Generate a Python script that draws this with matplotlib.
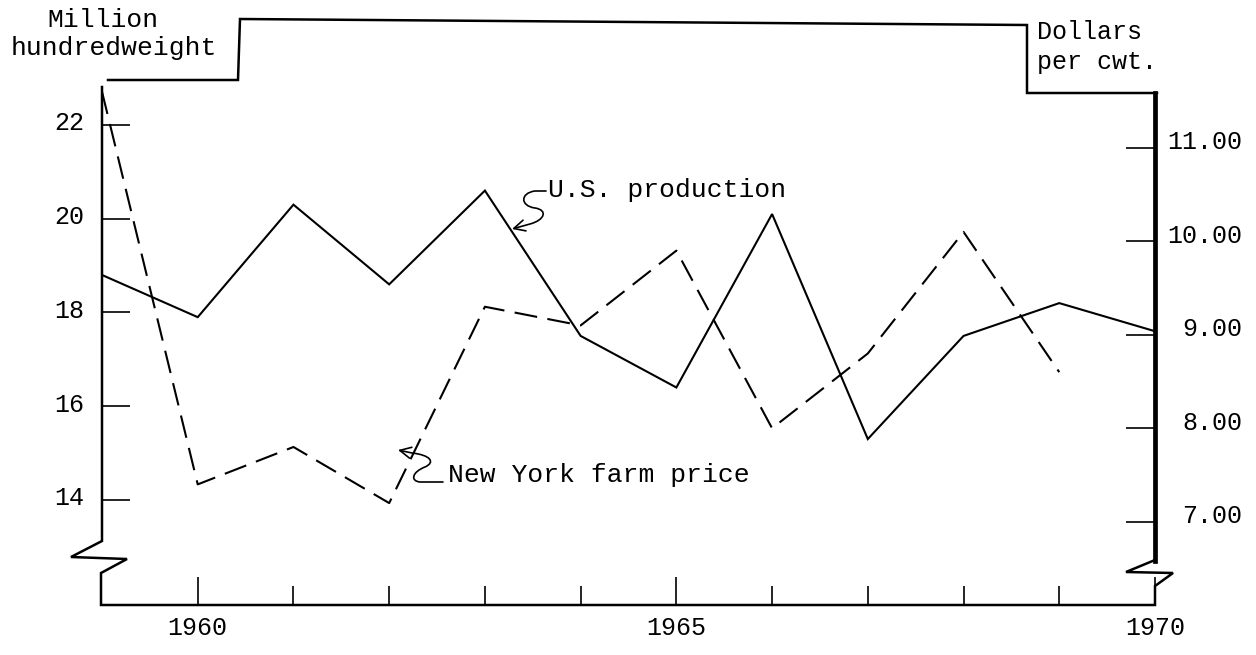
import matplotlib
matplotlib.use("Agg")
from matplotlib import pyplot as plt
from matplotlib.lines import Line2D
from matplotlib.patches import FancyArrowPatch
from matplotlib.path import Path
from matplotlib.transforms import Affine2D, ScaledTranslation

# onion data, 1959-1970
years = [1959, 1960, 1961, 1962, 1963, 1964, 1965, 1966, 1967, 1968, 1969, 1970]
us_production = [18.8, 17.9, 20.3, 18.6, 20.6, 17.5, 16.4, 20.1, 15.3, 17.5, 18.2, 17.6]  # million cwt
price_years = [1959, 1960, 1961, 1962, 1963, 1964, 1965, 1966, 1967, 1968, 1969]
ny_price = [11.6, 7.4, 7.8, 7.2, 9.3, 9.1, 9.9, 8.0, 8.8, 10.1, 8.6]  # dollars per cwt

left_ticks = [14, 16, 18, 20, 22]
right_ticks = [7, 8, 9, 10, 11]
right_labels = ['7.00', '8.00', '9.00', '10.00', '11.00']
year_labels = [1960, 1965, 1970]

W, H = 1256, 655
FONT = 'Liberation Mono'
plt.rcParams['font.family'] = [FONT, 'DejaVu Sans Mono']

fig = plt.figure(figsize=(W / 100, H / 100), dpi=100)
fig.patch.set_facecolor('white')

# pixel coords (origin top-left) -> figure
px = Affine2D().scale(1 / W, -1 / H).translate(0, 1) + fig.transFigure

x0, x1, ytop, ybot = 102, 1155, 87, 605
ax = fig.add_axes([x0 / W, 1 - ybot / H, (x1 - x0) / W, (ybot - ytop) / H])
ax.set_xlim(1959, 1970)
ax.set_ylim(11.76, 22.81)
ax2 = ax.twinx()
ax2.set_ylim(6.11, 11.65)

for a in (ax, ax2):
    for s in a.spines.values():
        s.set_visible(False)
    a.set_facecolor('none')

ax.plot(years, us_production, color='black', lw=1.5, solid_joinstyle='miter')
ax2.plot(price_years, ny_price, color='black', lw=1.5, linestyle=(0, (11, 5)))

# axes ticks
ax.set_yticks(left_ticks)
ax.set_yticklabels([str(t) for t in left_ticks])
ax.tick_params(axis='y', direction='in', length=20, width=1.2, pad=13,
               labelsize=18, left=True, right=False)
ax.set_xticks(year_labels)
ax.set_xticklabels([str(y) for y in year_labels])
ax.set_xticks([y for y in range(1960, 1970) if y not in year_labels], minor=True)
ax.tick_params(axis='x', which='major', direction='in', length=20, width=1.2,
               pad=8, labelsize=18)
ax.tick_params(axis='x', which='minor', direction='in', length=14, width=1.2)
ax.tick_params(axis='x', which='both', top=False)

ax2.set_yticks(right_ticks)
ax2.set_yticklabels(right_labels)
ax2.tick_params(axis='y', direction='in', length=21, width=1.2, pad=63,
                labelsize=18, right=True, left=False)

# typed numbers sit a little above their tick marks
lift_left = ScaledTranslation(0, 4 / 100, fig.dpi_scale_trans)
lift_right = ScaledTranslation(0, 8 / 100, fig.dpi_scale_trans)
for lab in ax.get_yticklabels():
    lab.set_transform(lab.get_transform() + lift_left)
for lab in ax2.get_yticklabels():
    lab.set_horizontalalignment('right')
    lab.set_transform(lab.get_transform() + lift_right)

# frame with broken axes
frame_top = [(108, 80), (238, 80), (240, 19), (1027, 25), (1027, 93), (1157, 93)]
left_axis = [(102, 87), (102, 541), (71, 557), (127, 559), (101, 573),
             (101, 605), (1155, 605), (1155, 586), (1173, 573), (1126, 572),
             (1155, 560)]
right_axis = [(1155, 93), (1155, 561)]
for pts, lw in ((frame_top, 1.8), (left_axis, 1.8), (right_axis, 3.4)):
    xs, ys = zip(*pts)
    fig.add_artist(Line2D(xs, ys, color='black', lw=lw, transform=px,
                          solid_joinstyle='miter'))

# unit captions
fig.text(103, 20, 'Million', transform=px, ha='center', va='center', fontsize=19)
fig.text(114, 48, 'hundredweight', transform=px, ha='center', va='center', fontsize=19)
fig.text(1037, 32, 'Dollars', transform=px, ha='left', va='center', fontsize=18)
fig.text(1037, 62, 'per cwt.', transform=px, ha='left', va='center', fontsize=18)

# series captions with hand-drawn style pointers
fig.text(548, 190, 'U.S. production', transform=px, ha='left', va='center', fontsize=19)
fig.text(448, 475, 'New York farm price', transform=px, ha='left', va='center', fontsize=19)

squiggle_us = Path([(546, 191), (535, 191), (520, 193), (520, 206), (535, 208),
                    (548, 210), (545, 220), (530, 224), (512, 229)],
                   [Path.MOVETO, Path.LINETO, Path.CURVE4, Path.CURVE4, Path.CURVE4,
                    Path.CURVE4, Path.CURVE4, Path.CURVE4, Path.LINETO])
squiggle_ny = Path([(443, 482), (420, 482), (410, 481), (412, 472), (425, 467),
                    (436, 462), (430, 455), (412, 453), (398, 450)],
                   [Path.MOVETO, Path.LINETO, Path.CURVE4, Path.CURVE4, Path.CURVE4,
                    Path.CURVE4, Path.CURVE4, Path.CURVE4, Path.LINETO])
for p in (squiggle_us, squiggle_ny):
    fig.add_artist(FancyArrowPatch(path=p, transform=px, color='black', lw=1.2,
                                   arrowstyle='->,head_length=0.8,head_width=0.4',
                                   mutation_scale=10))

fig.savefig('out.png', dpi=100, facecolor='white')
